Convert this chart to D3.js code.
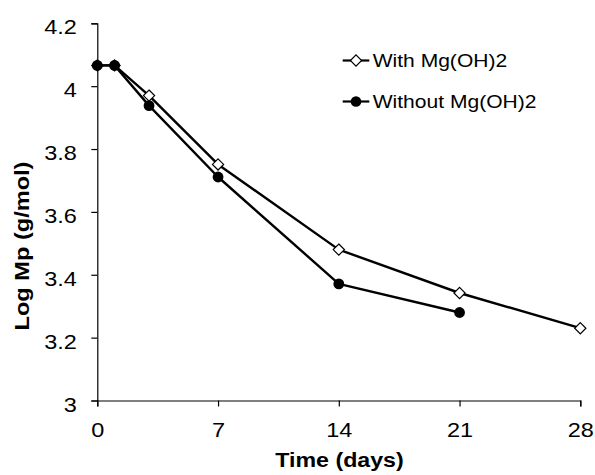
<!DOCTYPE html>
<html>
<head>
<meta charset="utf-8">
<script src="https://cdn.jsdelivr.net/npm/d3@7"></script>
<style>
  html, body { margin: 0; padding: 0; background: #fff; }
  svg { display: block; font-family: "Liberation Sans", Arial, sans-serif; }
</style>
</head>
<body>
<svg id="chart" width="595" height="475"></svg>
<script>
// Molecular weight (log Mp) over time, with and without Mg(OH)2
const daysWith = [0, 1, 3, 7, 14, 21, 28];
const logMpWith = [4.066, 4.066, 3.97, 3.751, 3.48, 3.342, 3.23];
const daysWithout = [0, 1, 3, 7, 14, 21];
const logMpWithout = [4.066, 4.066, 3.938, 3.711, 3.371, 3.28];

const xTicks = [0, 7, 14, 21, 28];
const yTicks = [3, 3.2, 3.4, 3.6, 3.8, 4, 4.2];
const seriesNames = ["With Mg(OH)2", "Without Mg(OH)2"];
const xTitle = "Time (days)";
const yTitle = "Log Mp (g/mol)";

const svg = d3.select("#chart");
const x = d3.scaleLinear().domain([0, 28]).range([97.3, 580.3]);
const y = d3.scaleLinear().domain([3, 4.2]).range([400.5, 23.3]);

// widen glyphs horizontally about the text anchor point
function stretch(sel, f) {
  sel.each(function () {
    const t = d3.select(this);
    const tx = +t.attr("x") || 0, ty = +t.attr("y") || 0;
    t.attr("transform", `translate(${tx},${ty}) scale(${f},1) translate(${-tx},${-ty})`);
  });
}

// axes
const xAxis = svg.append("g")
  .attr("transform", `translate(0,${y(3)})`)
  .call(d3.axisBottom(x).tickValues(xTicks).tickSize(6).tickPadding(0).tickFormat(d3.format("d")));
const yAxis = svg.append("g")
  .attr("transform", `translate(${x(0)},0)`)
  .call(d3.axisLeft(y).tickValues(yTicks).tickSize(6).tickPadding(0).tickFormat(d => String(+d.toFixed(1))));

[xAxis, yAxis].forEach(g => {
  g.select(".domain").attr("stroke", "#000").attr("stroke-width", 1.2);
  g.selectAll(".tick line").attr("stroke", "#000").attr("stroke-width", 1.2);
  g.selectAll(".tick text").attr("fill", "#000").attr("font-size", 21)
    .attr("font-family", "'Liberation Sans', Arial, sans-serif");
});
xAxis.selectAll(".tick text").attr("y", 37).attr("dy", 0);
yAxis.selectAll(".tick text").attr("x", -20.5).attr("y", 10.5).attr("dy", 0);
xAxis.selectAll(".tick text").call(stretch, 1.12);
yAxis.selectAll(".tick text").call(stretch, 1.12);

// axis titles
const xt = svg.append("text")
  .attr("x", 339.5).attr("y", 467)
  .attr("text-anchor", "middle")
  .attr("font-size", 20).attr("font-weight", "bold")
  .text(xTitle);
xt.call(stretch, 1.16);

const ytG = svg.append("g").attr("transform", "translate(28.5,246) rotate(-90)");
ytG.append("text")
  .attr("x", 0).attr("y", 0)
  .attr("text-anchor", "middle")
  .attr("font-size", 20).attr("font-weight", "bold")
  .text(yTitle)
  .call(stretch, 1.18);

// series
const line = d3.line().x(d => x(d[0])).y(d => y(d[1]));
const withPts = daysWith.map((d, i) => [d, logMpWith[i]]);
const withoutPts = daysWithout.map((d, i) => [d, logMpWithout[i]]);

const diamond = r => `M0,${-r}L${r},0L0,${r}L${-r},0Z`;

function drawSeries(pts, kind) {
  svg.append("path").datum(pts)
    .attr("d", line).attr("fill", "none")
    .attr("stroke", "#000").attr("stroke-width", 2.4)
    .attr("stroke-linejoin", "round");
  const m = svg.append("g").selectAll("path").data(pts).join("path")
    .attr("transform", d => `translate(${x(d[0])},${y(d[1])})`);
  if (kind === "diamond") {
    m.attr("d", diamond(5.6)).attr("fill", "#fff").attr("stroke", "#000").attr("stroke-width", 1.2);
  } else {
    m.attr("d", d3.symbol(d3.symbolCircle, Math.PI * 5.4 * 5.4)()).attr("fill", "#000");
  }
}
drawSeries(withPts, "diamond");
drawSeries(withoutPts, "circle");

// legend
const legend = svg.append("g");
const rows = [{ name: seriesNames[0], kind: "diamond", cy: 60.5 }, { name: seriesNames[1], kind: "circle", cy: 101.5 }];
rows.forEach(r => {
  legend.append("line").attr("x1", 342.7).attr("x2", 369.3).attr("y1", r.cy).attr("y2", r.cy)
    .attr("stroke", "#000").attr("stroke-width", 2.2);
  const mk = legend.append("path").attr("transform", `translate(356,${r.cy})`);
  if (r.kind === "diamond") {
    mk.attr("d", diamond(5.6)).attr("fill", "#fff").attr("stroke", "#000").attr("stroke-width", 1.2);
  } else {
    mk.attr("d", d3.symbol(d3.symbolCircle, Math.PI * 5.3 * 5.3)()).attr("fill", "#000");
  }
  legend.append("text").attr("x", 372.7).attr("y", r.cy + 6.8)
    .attr("font-size", 18).attr("fill", "#000")
    .text(r.name).call(stretch, 1.17);
});
</script>
</body>
</html>
